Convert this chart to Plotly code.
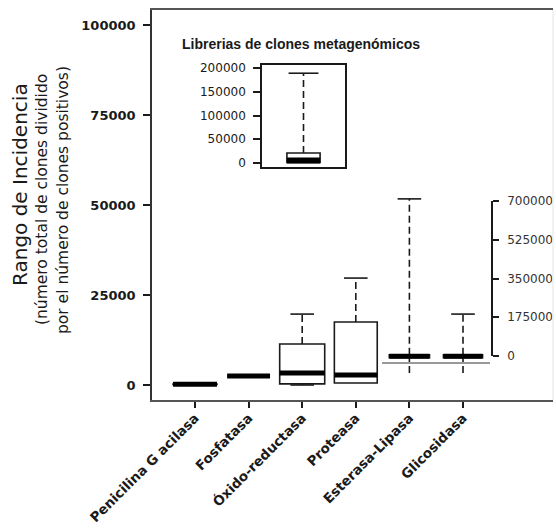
import plotly.graph_objects as go

# ---------------- data ----------------
categories = ["Penicilina G acilasa", "Fosfatasa", "Óxido-reductasa",
              "Proteasa", "Esterasa-Lipasa", "Glicosidasa"]
positions = [1, 2, 3, 4, 5, 6]
q1 = [150, 2500, 300, 550, 7600, 7600]
median = [200, 2500, 3300, 2800, 8000, 8000]
q3 = [250, 2500, 11400, 17500, 8400, 8400]
lower_fence = [150, 2500, 0, 550, 3300, 3300]
upper_fence = [250, 2500, 19700, 29700, 51700, 19700]
box_widths = [0.82, 0.8, 0.84, 0.8, 0.75, 0.73]
lower_caps = [False, False, True, False, False, False]

left_ticks = [0, 25000, 50000, 75000, 100000]

inset_title = "Librerias de clones metagenómicos"
inset_q1 = [1000]
inset_median = [5000]
inset_q3 = [21000]
inset_lower = [0]
inset_upper = [189000]
inset_ticks = [0, 50000, 100000, 150000, 200000]

right_ticks = [0, 175000, 350000, 525000, 700000]

ytitle_lines = ["Rango de Incidencia",
                "(número total de clones dividido",
                "por el número de clones positivos)"]

# ---------------- layout geometry (pixels) ----------------
W, H = 556, 530
L, R, T, B = 152, 3, 10, 130
PW, PH = W - L - R, H - T - B


def px(xp):
    return (xp - L) / PW


def py(yp):
    return (H - B - yp) / PH


FONT = "DejaVu Sans"
INK = "#1a1a1a"

fig = go.Figure()

# ---------------- main boxes ----------------
for i in range(len(categories)):
    fig.add_trace(go.Box(
        x=[positions[i]], q1=[q1[i]], median=[median[i]], q3=[q3[i]],
        lowerfence=[q1[i]], upperfence=[q3[i]],
        width=box_widths[i], whiskerwidth=0,
        fillcolor="white", line=dict(color=INK, width=1.6),
        boxpoints=False, showlegend=False, hoverinfo="skip",
        xaxis="x", yaxis="y"))

# whiskers (dashed)
wx, wy = [], []
for i in range(len(categories)):
    p = positions[i]
    if upper_fence[i] > q3[i]:
        wx += [p, p, None]
        wy += [q3[i], upper_fence[i], None]
    if lower_fence[i] < q1[i]:
        wx += [p, p, None]
        wy += [lower_fence[i], q1[i], None]
fig.add_trace(go.Scatter(x=wx, y=wy, mode="lines",
                         line=dict(color=INK, width=1.6, dash="7px,4px"),
                         showlegend=False, hoverinfo="skip"))

# caps
cx, cy = [], []
for i in range(len(categories)):
    p = positions[i]
    if upper_fence[i] > q3[i]:
        cx += [p - 0.22, p + 0.22, None]
        cy += [upper_fence[i], upper_fence[i], None]
    if lower_caps[i]:
        cx += [p - 0.22, p + 0.22, None]
        cy += [lower_fence[i], lower_fence[i], None]
fig.add_trace(go.Scatter(x=cx, y=cy, mode="lines",
                         line=dict(color=INK, width=1.6),
                         showlegend=False, hoverinfo="skip"))

# thick medians
mx, my = [], []
for i in range(len(categories)):
    p, w = positions[i], box_widths[i]
    mx += [p - w / 2, p + w / 2, None]
    my += [median[i], median[i], None]
fig.add_trace(go.Scatter(x=mx, y=my, mode="lines",
                         line=dict(color="black", width=5),
                         showlegend=False, hoverinfo="skip"))

# ---------------- inset ----------------
fig.add_trace(go.Box(
    x=[1], q1=inset_q1, median=inset_median, q3=inset_q3,
    lowerfence=inset_q1, upperfence=inset_q3, width=0.4, whiskerwidth=0,
    fillcolor="white", line=dict(color=INK, width=1.6), boxpoints=False,
    showlegend=False, hoverinfo="skip", xaxis="x2", yaxis="y2"))
fig.add_trace(go.Scatter(x=[1, 1], y=[inset_q3[0], inset_upper[0]], mode="lines",
                         line=dict(color=INK, width=1.6, dash="7px,4px"),
                         showlegend=False, hoverinfo="skip", xaxis="x2", yaxis="y2"))
fig.add_trace(go.Scatter(x=[0.82, 1.18], y=[inset_upper[0], inset_upper[0]], mode="lines",
                         line=dict(color=INK, width=1.6),
                         showlegend=False, hoverinfo="skip", xaxis="x2", yaxis="y2"))
fig.add_trace(go.Scatter(x=[0.8, 1.2], y=[inset_median[0], inset_median[0]], mode="lines",
                         line=dict(color="black", width=6),
                         showlegend=False, hoverinfo="skip", xaxis="x2", yaxis="y2"))

# dummy trace for right-hand axis
fig.add_trace(go.Scatter(x=[None], y=[None], xaxis="x3", yaxis="y3",
                         showlegend=False, hoverinfo="skip"))

# ---------------- axes ----------------
y0v = -15 / 360 * 100000
y1v = 100000 + 15 / 360 * 100000
fig.update_layout(
    width=W, height=H,
    margin=dict(l=L, r=R, t=T, b=B, autoexpand=False),
    paper_bgcolor="white", plot_bgcolor="white",
    font=dict(family=FONT, color=INK),
    xaxis=dict(domain=[0, 1], range=[1 - 43 / 53.6, 1 + (553 - 195) / 53.6],
               tickvals=positions, ticktext=categories, tickangle=-45,
               tickfont=dict(family=FONT, size=13.5, color=INK, weight="bold"),
               ticks="outside", ticklen=6, tickwidth=1.5, tickcolor=INK,
               ticklabelstandoff=-3, automargin=False,
               showline=True, linecolor="#555", linewidth=1.6, mirror=True,
               showgrid=False, zeroline=False),
    yaxis=dict(domain=[0, 1], range=[y0v, y1v],
               tickvals=left_ticks, tickformat="d",
               tickfont=dict(family=FONT, size=13, color=INK, weight="bold"),
               ticks="outside", ticklen=7, tickwidth=1.5, tickcolor=INK,
               ticklabelstandoff=5, automargin=False,
               showline=True, linecolor="#333", linewidth=1.6,
               showgrid=False, zeroline=False),
    xaxis2=dict(domain=[px(262), px(345)], range=[0.5, 1.5], anchor="y2",
                showticklabels=False, ticks="", showline=True, linecolor=INK,
                linewidth=1.6, mirror=True, showgrid=False, zeroline=False,
                automargin=False),
    yaxis2=dict(domain=[py(167), py(65)],
                range=[-4 * 200000 / 95, 200000 + 3 * 200000 / 95], anchor="x2",
                tickvals=inset_ticks, tickformat="d",
                tickfont=dict(family=FONT, size=12, color=INK),
                ticks="outside", ticklen=7, tickwidth=1.5, tickcolor=INK,
                ticklabelstandoff=5, automargin=False,
                showline=True, linecolor=INK, linewidth=1.6, mirror=True,
                showgrid=False, zeroline=False),
    xaxis3=dict(domain=[px(492), px(550)], visible=False, range=[0, 1],
                automargin=False),
    yaxis3=dict(domain=[py(356), py(201)], range=[0, 700000],
                anchor="free", position=px(492), side="right",
                tickvals=right_ticks, tickformat="d",
                tickfont=dict(family=FONT, size=12, color="#333"),
                ticks="outside", ticklen=6, tickwidth=1.5, tickcolor=INK,
                ticklabelstandoff=6, automargin=False,
                showline=True, linecolor=INK, linewidth=1.6,
                showgrid=False, zeroline=False),
)

# decorations
fig.add_shape(type="line", xref="paper", yref="paper",
              x0=px(382), x1=px(490), y0=py(363), y1=py(363),
              line=dict(color="#777", width=1.5))
fig.add_shape(type="line", xref="paper", yref="paper",
              x0=1, x1=1, y0=0, y1=1, line=dict(color="#e4e4e4", width=1))

# y-axis title (three lines)
xs = [20, 42, 63]
sizes = [20, 15.5, 15.5]
weights = ["normal", "normal", "normal"]
for txt, xp, sz, wt in zip(ytitle_lines, xs, sizes, weights):
    fig.add_annotation(text=txt, xref="paper", yref="paper",
                       x=px(xp), y=py(185 if xp == 20 else 200),
                       xanchor="center", yanchor="middle",
                       textangle=-90, showarrow=False,
                       font=dict(family=FONT, size=sz, color=INK, weight=wt))

fig.add_annotation(text="<b>" + inset_title + "</b>", xref="paper", yref="paper",
                   x=px(180), y=py(44), xanchor="left", yanchor="middle",
                   showarrow=False, font=dict(family="Liberation Sans", size=14, color=INK))

fig.write_html("out.html")
